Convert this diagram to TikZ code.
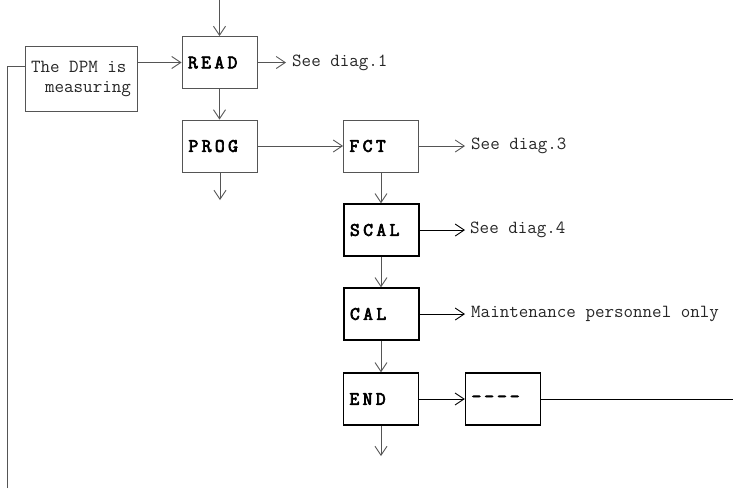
\documentclass[tikz,border=0pt]{standalone}
\usepackage{fontspec}
\usetikzlibrary{arrows.meta}
\newfontfamily\txtfont{Latin Modern Mono}
\newfontfamily\lblfont[LetterSpace=18,FakeBold=3.5]{Latin Modern Mono}
\definecolor{thin}{HTML}{555555}
\begin{document}
\begin{tikzpicture}[x=1pt,y=-1pt,
  thinline/.style={draw=thin,line width=0.9pt},
  thickline/.style={draw=black,line width=1.3pt},
  arr/.style={thinline,-{Straight Barb[length=9pt,width=12pt,line width=0.9pt]}},
  box/.style={minimum width=75pt,minimum height=52pt,text width=63pt,inner xsep=6pt,inner ysep=0pt,align=left,
    font=\lblfont\fontsize{19}{20}\selectfont},
  lightbox/.style={box,thinline},
  heavybox/.style={box,thickline},
  note/.style={anchor=west,inner sep=0pt,font=\txtfont\fontsize{18.5}{20}\selectfont,text=black!85}]
\useasboundingbox (0,0) rectangle (733,488);

\node[lightbox] (read) at (219.5,62.5) {READ};
\node[lightbox] (prog) at (220,146) {PROG};
\node[lightbox] (fct) at (381,146) {FCT};
\node[heavybox] (scal) at (381.5,230) {SCAL};
\node[heavybox] (cal) at (381.5,314) {CAL};
\node[heavybox] (end) at (381,399) {END};
\node[heavybox] (dash) at (503,399) {-\kern3pt-\kern3pt-\kern3pt-};
\node[thinline,minimum width=112pt,minimum height=65pt,inner sep=0pt,align=left,
  font=\txtfont\fontsize{18.5}{20}\selectfont,text=black!85] (dpm) at (81,78.5)
  {The DPM is\\\hspace*{14pt}measuring};

\coordinate (top) at (219.5,0);
\coordinate (s1) at (286,63);
\coordinate (s3) at (465,146);
\coordinate (s4) at (465,230);
\coordinate (s5) at (465,314);
\coordinate (pd) at (220,200);
\coordinate (ed) at (381,456);
\coordinate (rt) at (733,399);
\coordinate (lp) at (7,66);
\coordinate (bot) at (7,488);

\node[note] (t1) at (292,63) {See diag.1};
\node[note] (t3) at (471,146) {See diag.3};
\node[note] (t4) at (470,230) {See diag.4};
\node[note] (t5) at (471,314) {Maintenance personnel only};

\draw[arr] (top) -- (read.north);
\draw[arr] (read.west -| dpm.east) -- (read.west);
\draw[arr] (read.east) -- (read.east -| s1);
\draw[arr] (read.south) -- (read.south |- prog.north);
\draw[arr] (prog.south) -- (pd);
\draw[arr] (prog.east) -- (fct.west);
\draw[arr] (fct.east) -- (fct.east -| s3);
\draw[arr] (fct.south) -- (fct.south |- scal.north);
\draw[arr,draw=black] (scal.east) -- (scal.east -| s4);
\draw[arr] (scal.south -| fct.south) -- (cal.north -| fct.south);
\draw[arr,draw=black] (cal.east) -- (cal.east -| s5);
\draw[arr] (cal.south -| fct.south) -- (end.north -| fct.south);
\draw[arr,draw=black] (end.east) -- (dash.west);
\draw[thinline,draw=black] (dash.east) -- (rt);
\draw[arr] (end.south) -- (ed);
\draw[thinline] (bot) -- (lp) -- (lp -| dpm.west);
\end{tikzpicture}
\end{document}
